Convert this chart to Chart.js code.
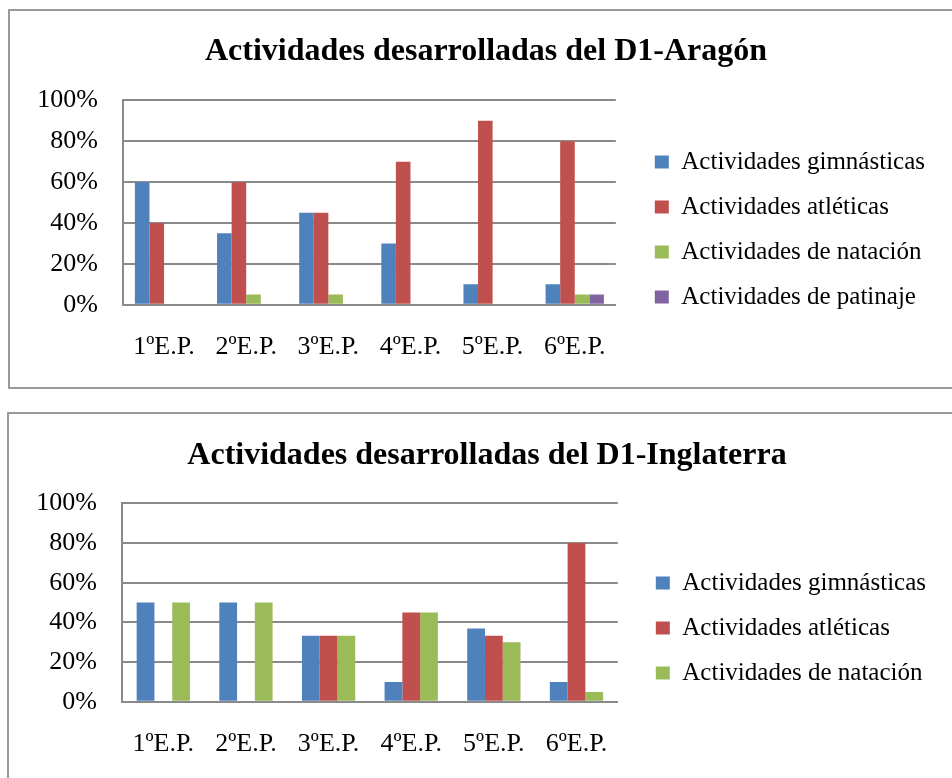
<!DOCTYPE html>
<html>
<head>
<meta charset="utf-8">
<script src="https://cdn.jsdelivr.net/npm/chart.js@4"></script>
<style>
  html, body { margin: 0; padding: 0; background: #fff; overflow: hidden; }
  body { width: 952px; height: 778px; position: relative; }
  .box { position: absolute; border: 2px solid #9a9a9a; background: #fff; }
  #box1 { left: 8px; top: 9px; width: 980px; height: 376px; }
  #box2 { left: 7px; top: 412px; width: 980px; height: 400px; }
  canvas { position: absolute; left: 0; }
  #c1 { top: 0; }
  #c2 { top: 400px; }
</style>
</head>
<body>
<div class="box" id="box1"></div>
<div class="box" id="box2"></div>
<canvas id="c1" width="952" height="390"></canvas>
<canvas id="c2" width="952" height="390"></canvas>
<script>
// ---- datos ----
const cursos = ['1ºE.P.', '2ºE.P.', '3ºE.P.', '4ºE.P.', '5ºE.P.', '6ºE.P.'];

const aragonGimnasticas = [60, 35, 45, 30, 10, 10];
const aragonAtleticas   = [40, 60, 45, 70, 90, 80];
const aragonNatacion    = [0, 5, 5, 0, 0, 5];
const aragonPatinaje    = [0, 0, 0, 0, 0, 5];

const inglaterraGimnasticas = [50, 50, 33.3, 10, 37, 10];
const inglaterraAtleticas   = [0, 0, 33.3, 45, 33.3, 80];
const inglaterraNatacion    = [50, 50, 33.3, 45, 30, 5];

const COLORS = {
  gimn: '#4F81BD',
  atle: '#C0504D',
  nata: '#9BBB59',
  pati: '#8064A2'
};
const GRID = '#8a8a8a';
const SERIF = "'Liberation Serif', 'Times New Roman', serif";

function makeChart(id, cfg) {
  const ctx = document.getElementById(id).getContext('2d');
  return new Chart(ctx, {
    type: 'bar',
    data: {
      labels: cursos,
      datasets: cfg.datasets.map(d => ({
        label: d.label,
        data: d.data,
        backgroundColor: d.color,
        borderWidth: 0,
        categoryPercentage: cfg.catPct,
        barPercentage: 1.0
      }))
    },
    options: {
      responsive: false,
      animation: false,
      layout: { padding: cfg.padding },
      plugins: {
        tooltip: { enabled: false },
        title: {
          display: true,
          text: cfg.title,
          color: '#000',
          font: { family: SERIF, size: 32, weight: 'bold' },
          padding: cfg.titlePadding
        },
        legend: {
          position: 'right',
          align: 'center',
          maxWidth: 400,
          title: { display: true, text: '', font: { size: 10 }, padding: { top: cfg.legendShift, bottom: 0 } },
          labels: {
            boxWidth: 14,
            boxHeight: 13,
            padding: 20,
            color: '#000',
            font: { family: SERIF, size: 25 }
          }
        }
      },
      scales: {
        x: {
          grid: { display: false },
          border: { display: true, color: GRID, width: 2 },
          ticks: { color: '#000', padding: 19, font: { family: SERIF, size: 26 }, maxRotation: 0, autoSkip: false }
        },
        y: {
          min: 0,
          max: 100,
          afterFit: s => { s.width = cfg.yWidth; },
          grid: { color: GRID, lineWidth: 2, drawTicks: false },
          border: { display: true, color: GRID, width: 2 },
          ticks: {
            stepSize: 20,
            padding: 25,
            autoSkip: false,
            color: '#000',
            font: { family: SERIF, size: 26 },
            callback: v => v + '%'
          }
        },
        y2: {
          position: 'right',
          display: true,
          afterFit: s => { s.width = cfg.spacer; },
          grid: { display: false },
          border: { display: false },
          ticks: { display: false }
        }
      }
    }
  });
}

makeChart('c1', {
  title: 'Actividades desarrolladas del D1-Aragón',
  catPct: 0.71,
  padding: { left: 37, right: 17, top: 0, bottom: 8 },
  titlePadding: { top: 33, bottom: 29 },
  legendShift: 65,
  yWidth: 86,
  spacer: 19,
  datasets: [
    { label: 'Actividades gimnásticas', data: aragonGimnasticas, color: COLORS.gimn },
    { label: 'Actividades atléticas', data: aragonAtleticas, color: COLORS.atle },
    { label: 'Actividades de natación', data: aragonNatacion, color: COLORS.nata },
    { label: 'Actividades de patinaje', data: aragonPatinaje, color: COLORS.pati }
  ]
});

makeChart('c2', {
  title: 'Actividades desarrolladas del D1-Inglaterra',
  catPct: 0.645,
  padding: { left: 38, right: 16, top: 0, bottom: 11 },
  titlePadding: { top: 37, bottom: 28 },
  legendShift: 65,
  yWidth: 84,
  spacer: 18,
  datasets: [
    { label: 'Actividades gimnásticas', data: inglaterraGimnasticas, color: COLORS.gimn },
    { label: 'Actividades atléticas', data: inglaterraAtleticas, color: COLORS.atle },
    { label: 'Actividades de natación', data: inglaterraNatacion, color: COLORS.nata }
  ]
});
</script>
</body>
</html>
